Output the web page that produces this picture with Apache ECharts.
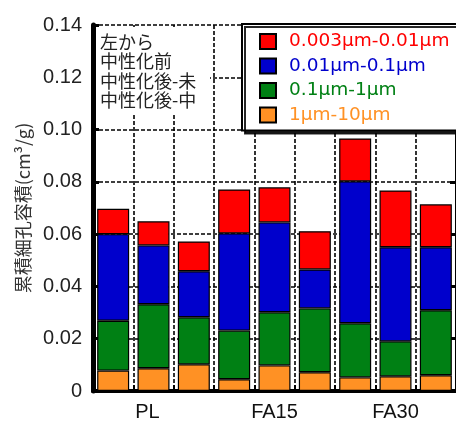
<!DOCTYPE html>
<html><head><meta charset="utf-8">
<script src="https://cdn.jsdelivr.net/npm/echarts@6/dist/echarts.min.js"></script>
<style>html,body{margin:0;padding:0;background:#fff}#c{width:456px;height:423px}</style>
</head><body><div id="c"></div>
<script>
// bars: left to right within each group: 中性化前, 中性化後-未, 中性化後-中
var bars = ['PL-前','PL-未','PL-中','FA15-前','FA15-未','FA15-中','FA30-前','FA30-未','FA30-中'];
var groupLabels = {1:'PL', 4:'FA15', 7:'FA30'};
var seriesNames = ['1μm-10μm','0.1μm-1μm','0.01μm-0.1μm','0.003μm-0.01μm'];
var v_1_10   = [0.0078, 0.0087, 0.0102, 0.0045, 0.0098, 0.0072, 0.0052, 0.0056, 0.0060];
var v_01_1   = [0.0191, 0.0245, 0.0180, 0.0186, 0.0203, 0.0244, 0.0207, 0.0134, 0.0249];
var v_001_01 = [0.0331, 0.0225, 0.0176, 0.0372, 0.0344, 0.0149, 0.0543, 0.0360, 0.0241];
var v_0003_001 = [0.0097, 0.0092, 0.0114, 0.0168, 0.0134, 0.0146, 0.0164, 0.0217, 0.0164];
var yTicks = [0, 0.02, 0.04, 0.06, 0.08, 0.10, 0.12, 0.14];
var noteLines = ['左から','中性化前','中性化後-未','中性化後-中'];

var colors = ['#FF9124', '#008014', '#0000CC', '#FF0000'];
var values = [v_1_10, v_01_1, v_001_01, v_0003_001];
var JP = '"Noto Sans CJK JP", sans-serif';
var LIB = '"Liberation Sans", sans-serif';

var chart = echarts.init(document.getElementById('c'), null, {renderer:'canvas'});
var series = values.map(function(v, i){
  return {
    name: seriesNames[i], type: 'bar', stack: 'all', data: v, barWidth: 32,
    itemStyle: {color: colors[i], borderColor: '#000', borderWidth: 1.2},
    emphasis: {disabled: true}
  };
});
var legendData = [3,2,1,0].map(function(i){
  return {name: seriesNames[i], icon: 'rect', textStyle: {color: colors[i]}};
});
var dash = {color:'#000', width:1.6, type:[4,2]};
chart.setOption({
  animation: false,
  grid: {left: 93, top: 25, width: 364, height: 366, containLabel: false},
  xAxis: [{
    type: 'category', data: bars, position: 'bottom',
    axisLine: {lineStyle: {color:'#000', width: 4}},
    axisTick: {show: true, inside: true, length: 6, lineStyle: {color:'#000', width: 2}},
    splitLine: {show: true, lineStyle: dash},
    axisLabel: {interval: 0, margin: 11, color:'#111', fontSize: 20, fontFamily: LIB,
      formatter: function(v, idx){
        if (idx === 1) return '{pl|' + groupLabels[idx] + '}';
        return groupLabels[idx] || '';
      },
      rich: {pl: {fontSize: 20, fontFamily: LIB, color: '#111', padding: [0, 12, 0, 0]}}}
  },{
    type: 'category', data: bars, position: 'top',
    axisLine: {lineStyle: {color:'#000', width: 3.5}},
    axisTick: {show: false}, axisLabel: {show: false}
  }],
  yAxis: [{
    type: 'value', min: 0, max: 0.14, interval: 0.02, position: 'left',
    name: '累積細孔容積(cm³/g)', nameLocation: 'middle', nameGap: 57, nameRotate: 90,
    nameTextStyle: {fontSize: 18, color: '#333', fontFamily: JP},
    axisLine: {show: true, lineStyle: {color:'#000', width: 5}},
    axisTick: {show: true, inside: true, length: 6, lineStyle: {color:'#000', width: 3}},
    splitLine: {show: true, lineStyle: dash},
    axisLabel: {margin: 11, color:'#222', fontSize: 20, fontFamily: LIB,
      customValues: yTicks,
      formatter: function(v){ return v === 0 ? '0' : v.toFixed(2); }}
  },{
    type: 'value', min: 0, max: 0.14, interval: 0.02, position: 'right',
    axisLine: {show: true, lineStyle: {color:'#000', width: 3}},
    axisTick: {show: true, inside: true, length: 6, lineStyle: {color:'#000', width: 3}},
    axisLabel: {show: false}, splitLine: {show: false}
  }],
  legend: {
    orient: 'vertical', left: 242, top: 24,
    data: legendData, selectedMode: false,
    itemWidth: 16, itemHeight: 15, itemGap: 5.5,
    padding: [8, 60, 6, 17],
    backgroundColor: '#fff', borderColor: '#000', borderWidth: 2,
    shadowColor: 'rgba(0,0,0,0.85)', shadowOffsetX: 3, shadowOffsetY: 3, shadowBlur: 0,
    textStyle: {fontSize: 18.5, lineHeight: 18, fontFamily: '"DejaVu Sans", sans-serif', padding: [0,0,0,8]},
    z: 10
  },
  graphic: [
    {type: 'rect', z: 100, zlevel: 0, shape: {x: 96, y: 27, width: 114, height: 88}, style: {fill: '#fff'}},
    {type: 'text', z: 101, zlevel: 0, x: 100, y: 32, style: {text: noteLines.join('\n'), fontSize: 18, lineHeight: 19.5,
      fontFamily: JP, fill: '#222', verticalAlign: 'top'}}
  ],
  series: series
});
</script></body></html>
